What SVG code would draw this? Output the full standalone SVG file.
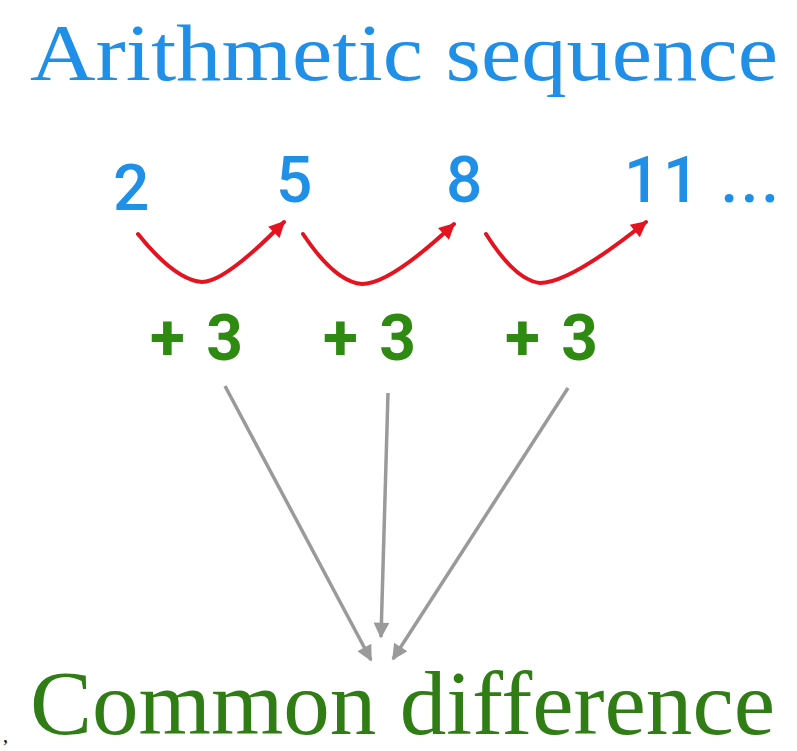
<svg xmlns="http://www.w3.org/2000/svg" width="797" height="751" viewBox="0 0 797 751">
<style>
.title{font-family:"Liberation Serif","DejaVu Serif",serif;fill:#1f8fe8;}
.num{font-family:"Roboto","Liberation Sans",sans-serif;font-weight:500;fill:#1f8fe8;font-size:64px;}
.plus{font-family:"Roboto","Liberation Sans",sans-serif;font-weight:700;fill:#2f8a12;font-size:64px;}
.foot{font-family:"Liberation Serif","DejaVu Serif",serif;fill:#2f7d14;}
.red{fill:none;stroke:#e5121f;stroke-width:4;stroke-linecap:round;}
.gray{fill:none;stroke:#9a9a9a;stroke-width:3.5;}
</style>
<defs>
<marker id="ra" viewBox="0 0 10 10" refX="9" refY="5" markerWidth="5" markerHeight="4" orient="auto" markerUnits="strokeWidth">
<path d="M0,0 L10,5 L0,10 z" fill="#e5121f"/>
</marker>
<marker id="ga" viewBox="0 0 10 10" refX="9" refY="5" markerWidth="6" markerHeight="4.5" orient="auto" markerUnits="strokeWidth">
<path d="M0,0 L10,5 L0,10 z" fill="#9a9a9a"/>
</marker>
</defs>
<rect width="797" height="751" fill="#ffffff"/>
<g id="title"><text class="title" x="30" y="80" font-size="80" textLength="748" lengthAdjust="spacingAndGlyphs">Arithmetic sequence</text></g>
<g id="n2"><text class="num" x="113" y="210">2</text></g>
<g id="n5"><text class="num" x="276" y="202">5</text></g>
<g id="n8"><text class="num" x="446" y="202">8</text></g>
<g id="n11"><text class="num" x="624" y="202" textLength="155" lengthAdjust="spacing">11 ...</text></g>
<g id="p1"><text class="plus" x="150" y="360" textLength="93" lengthAdjust="spacing">+3</text></g>
<g id="p2"><text class="plus" x="323" y="360" textLength="93" lengthAdjust="spacing">+3</text></g>
<g id="p3"><text class="plus" x="505" y="360" textLength="93" lengthAdjust="spacing">+3</text></g>
<g id="foot"><text class="foot" x="30" y="734" font-size="90" textLength="745" lengthAdjust="spacingAndGlyphs">Common difference</text></g>
<g id="comma"><text x="3" y="742" font-family="Liberation Serif, serif" font-size="20" fill="#000">,</text></g>
<g id="connectors">
<path class="red" d="M138,234 Q175,280 202,282 Q225,282 284,222" marker-end="url(#ra)"/>
<path class="red" d="M303,234 Q335,282 362,284 Q390,284 454,224" marker-end="url(#ra)"/>
<path class="red" d="M486,234 Q515,280 540,283 Q570,283 646,222" marker-end="url(#ra)"/>
<line class="gray" x1="225" y1="386" x2="371" y2="660" marker-end="url(#ga)"/>
<line class="gray" x1="388" y1="393" x2="381" y2="637" marker-end="url(#ga)"/>
<line class="gray" x1="568" y1="388" x2="393" y2="659" marker-end="url(#ga)"/>
</g>
</svg>
